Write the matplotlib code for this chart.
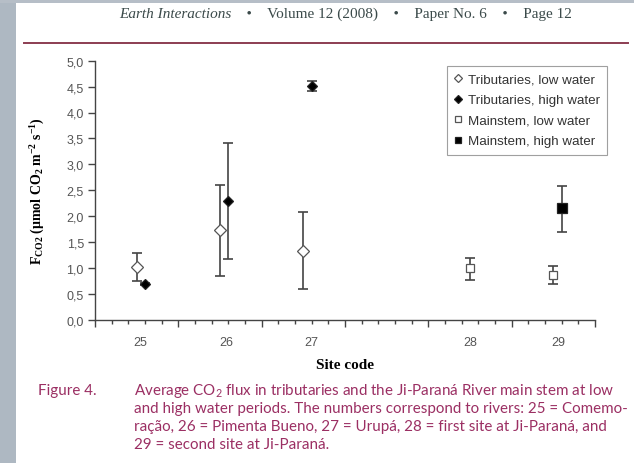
import numpy as np
import matplotlib.pyplot as plt
from matplotlib.patches import Rectangle
from matplotlib.lines import Line2D
from matplotlib.ticker import MultipleLocator, NullFormatter

# site labels and where they sit on the (0..30) position axis
sites = ['25', '26', '27', '28', '29']
site_label_pos = [2.7, 7.9, 13.0, 22.5, 27.8]

# tributaries, low water
trib_low_x = [2.5, 7.5, 12.5]
trib_low_y = [1.01, 1.73, 1.32]
trib_low_lo = [0.74, 0.84, 0.59]
trib_low_hi = [1.28, 2.61, 2.08]

# tributaries, high water
trib_high_x = [3.0, 8.0, 13.0]
trib_high_y = [0.69, 2.30, 4.52]
trib_high_lo = [0.67, 1.17, 4.41]
trib_high_hi = [0.71, 3.42, 4.61]

# mainstem, low water
main_low_x = [22.5, 27.5]
main_low_y = [0.99, 0.86]
main_low_lo = [0.77, 0.68]
main_low_hi = [1.19, 1.03]

# mainstem, high water
main_high_x = [28.0]
main_high_y = [2.15]
main_high_lo = [1.70]
main_high_hi = [2.59]

plt.rcParams['mathtext.default'] = 'regular'

W, H = 634, 464
fig = plt.figure(figsize=(W / 100, H / 100), dpi=100)
fig.patch.set_facecolor('white')

# page background strips
fig.add_artist(Rectangle((0, 0), 16 / W, 1, transform=fig.transFigure,
                         facecolor='#aeb8c2', edgecolor='none', zorder=0))
fig.add_artist(Rectangle((0, 1 - 4 / H), 1, 4 / H, transform=fig.transFigure,
                         facecolor='#b6bec7', edgecolor='none', zorder=0))

# running header: italic journal name, then the rest right after it
hdr = dict(family='Liberation Serif', fontsize=11, color='#3b4a4a', va='center')
t1 = fig.text(119 / W, 1 - 14 / H, 'Earth Interactions', style='italic', **hdr)
fig.canvas.draw()
x_end = t1.get_window_extent().x1
fig.text(x_end / W, 1 - 14 / H,
         '    •    Volume 12 (2008)    •    Paper No. 6    •    Page 12', **hdr)
fig.add_artist(Line2D([24 / W, 628 / W], [1 - 44 / H, 1 - 44 / H],
                      transform=fig.transFigure, color='#8c3d52', lw=1.4))

ax = fig.add_axes([95 / W, (H - 320.7) / H, 500 / W, 259 / H])
ax.set_xlim(0, 30)
ax.set_ylim(0, 5)
for s in ['top', 'right']:
    ax.spines[s].set_visible(False)
for s in ['left', 'bottom']:
    ax.spines[s].set_color('#444444')
    ax.spines[s].set_linewidth(1.0)

ax.yaxis.set_major_locator(MultipleLocator(0.5))
ax.set_yticks(np.arange(0, 5.01, 0.5))
ax.set_yticklabels([f'{v:.1f}'.replace('.', ',') for v in ax.get_yticks()])
ax.tick_params(axis='y', direction='out', length=5, width=1, color='#444444',
               labelsize=9, labelcolor='#555555', pad=3)
for lab in ax.get_yticklabels():
    lab.set_family('Liberation Sans')

ax.xaxis.set_major_locator(MultipleLocator(5))
ax.xaxis.set_minor_locator(MultipleLocator(1))
ax.xaxis.set_major_formatter(NullFormatter())
ax.tick_params(axis='x', which='major', direction='out', length=5, width=1,
               color='#444444')
ax.tick_params(axis='x', which='minor', direction='out', length=3, width=1,
               color='#444444')

for x, s in zip(site_label_pos, sites):
    ax.text(x, -0.43, s, ha='center', va='center', fontsize=9,
            color='#555555', family='Liberation Sans')

ax.set_xlabel('Site code', family='Liberation Serif', fontweight='bold',
              fontsize=11, labelpad=19)
ax.set_ylabel(r'F$_{CO2}$ ($\mu$mol CO$_2$ m$^{-2}$ s$^{-1}$)',
              family='Liberation Serif', fontweight='bold', fontsize=10,
              labelpad=14)


def series(x, y, lo, hi, marker, face, size, label):
    y = np.array(y)
    yerr = [y - np.array(lo), np.array(hi) - y]
    ax.errorbar(x, y, yerr=yerr, fmt='none', ecolor='#444444', elinewidth=1.2,
                capsize=3.5, capthick=1.2, zorder=2)
    ax.plot(x, y, linestyle='none', marker=marker, markersize=size,
            markerfacecolor=face, markeredgecolor='#222222' if face == 'black'
            else '#555555', markeredgewidth=0.9, zorder=3, label=label)


series(trib_low_x, trib_low_y, trib_low_lo, trib_low_hi, 'D', 'white', 6,
       'Tributaries, low water')
series(trib_high_x, trib_high_y, trib_high_lo, trib_high_hi, 'D', 'black', 5.5,
       'Tributaries, high water')
series(main_low_x, main_low_y, main_low_lo, main_low_hi, 's', 'white', 6,
       'Mainstem, low water')
series(main_high_x, main_high_y, main_high_lo, main_high_hi, 's', 'black', 6.5,
       'Mainstem, high water')

leg = ax.legend(loc='upper left', bbox_to_anchor=((447 - 95) / 500, (320.7 - 67) / 259),
                prop={'family': 'Liberation Sans', 'size': 9.6}, frameon=True,
                fancybox=False, edgecolor='#888888', handlelength=0.6,
                handletextpad=0.4, labelspacing=0.62, borderpad=0.55,
                markerscale=0.75, borderaxespad=0)
leg.get_frame().set_linewidth(0.8)
for t in leg.get_texts():
    t.set_color('#333333')

# caption
cap_color = '#9b2f63'
cap_font = dict(family='Lato', fontsize=10.9, color=cap_color, va='center')
fig.text(38 / W, 1 - 391 / H, 'Figure 4.', **cap_font)
cap_lines = [
    'Average CO$_2$ flux in tributaries and the Ji-Paraná River main stem at low',
    'and high water periods. The numbers correspond to rivers: 25 = Comemo-',
    'ração, 26 = Pimenta Bueno, 27 = Urupá, 28 = first site at Ji-Paraná, and',
    '29 = second site at Ji-Paraná.',
]
for i, line in enumerate(cap_lines):
    fig.text(134 / W, 1 - (391 + 18 * i) / H, line, **cap_font)

fig.savefig('out.png', dpi=100)
